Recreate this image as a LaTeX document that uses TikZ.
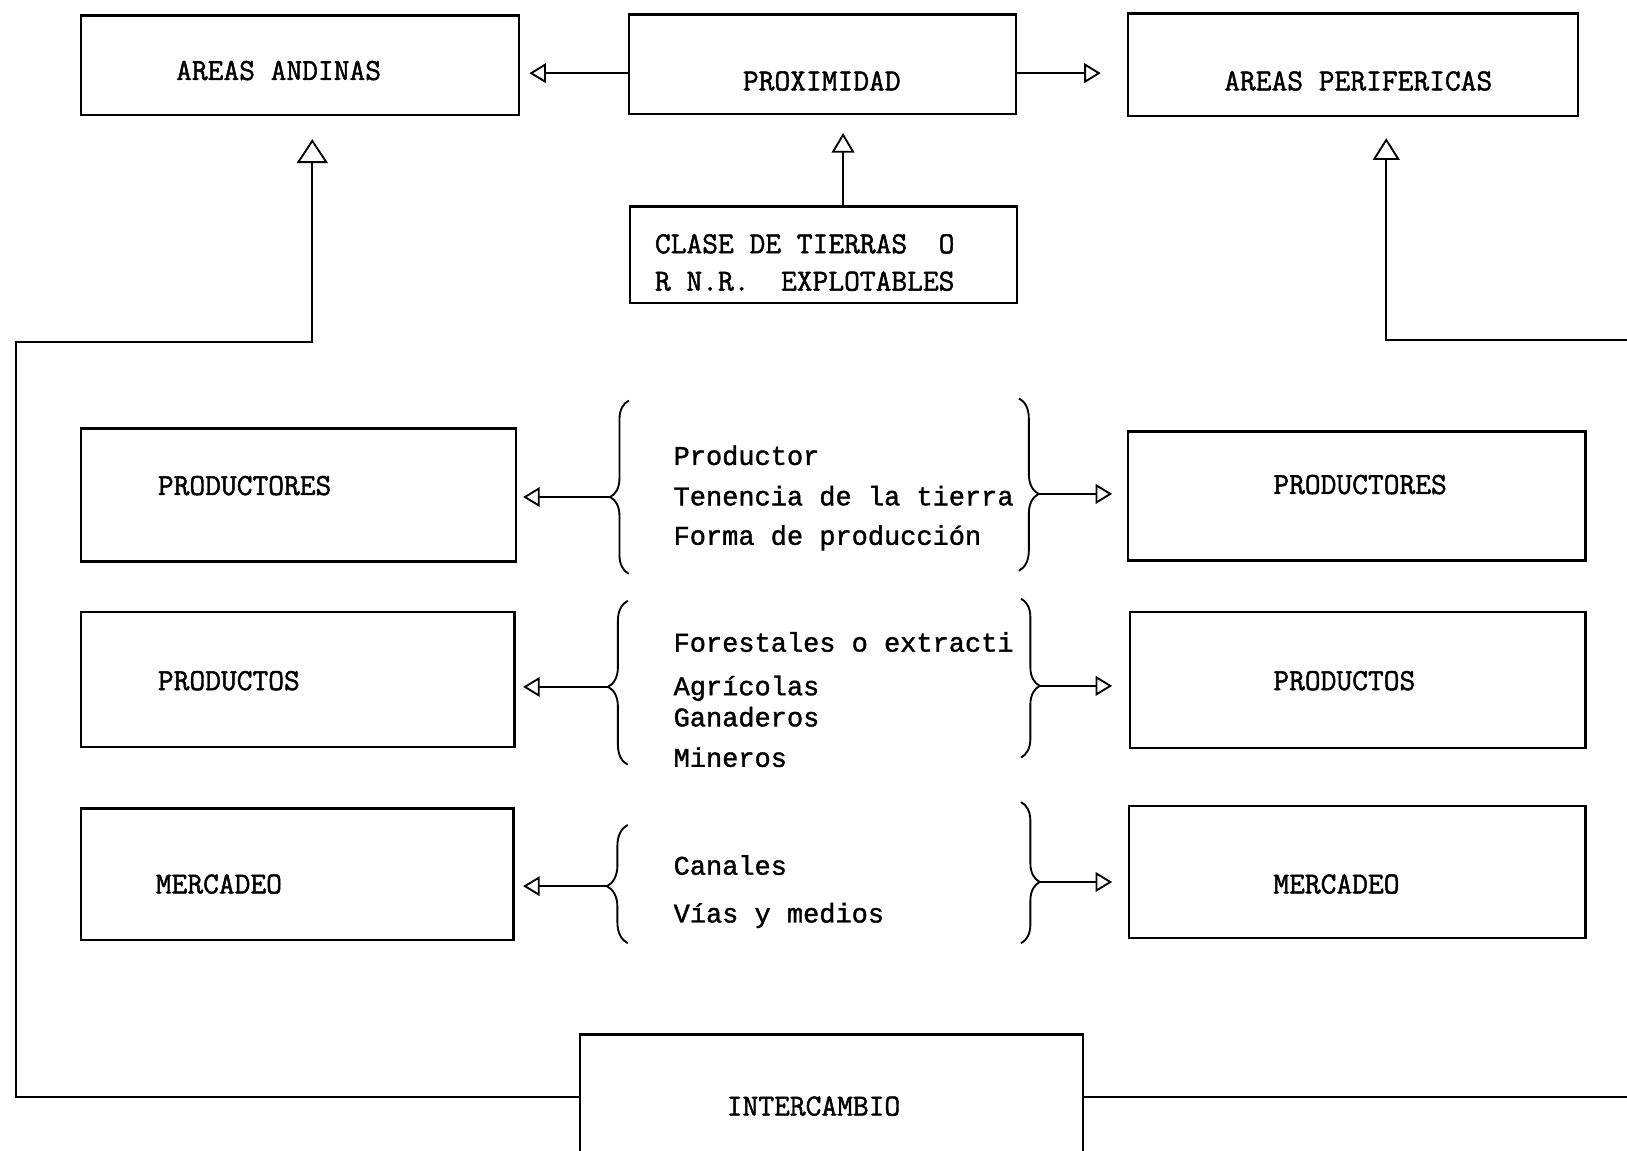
\documentclass[tikz,border=0pt]{standalone}
\usepackage{fontspec}
\newfontfamily\typew{Liberation Mono}[FakeBold=1.3]
\newfontfamily\capf{Latin Modern Mono}[FakeBold=1.5]
\usetikzlibrary{arrows.meta,decorations.pathreplacing}
\tikzset{
  box/.style 2 args={draw, line width=2.3pt, minimum width=#1pt, minimum height=#2pt, inner sep=0pt},
  lbl/.style={font=\capf\fontsize{29.5}{34}\selectfont, inner sep=0pt},
  txt/.style={font=\typew\fontsize{26}{30}\selectfont, inner sep=0pt, anchor=base west},
  conn/.style={line width=1.9pt},
  tipS/.style={-{Triangle[open,length=16pt,width=19pt,line width=1.8pt]}},
  tipU/.style={-{Triangle[open,length=23pt,width=30pt,line width=1.8pt]}},
  tipV/.style={-{Triangle[open,length=21pt,width=26pt,line width=1.8pt]}},
  tipM/.style={-{Triangle[open,length=19pt,width=22pt,line width=1.8pt]}},
  brc/.style 2 args={decorate, decoration={brace, amplitude=#1pt, aspect=#2}, line width=1.8pt}
}
\begin{document}
\begin{tikzpicture}[x=1pt,y=-1pt]
\useasboundingbox (0,0) rectangle (1568,1109);
\fill[white] (0,0) rectangle (1568,1109);
\clip (0,0) rectangle (1568,1109);

% top row
\node[box={422}{96}] (andinas) at (289,63) {};
\node[lbl] (tandinas) at (268.5,68) {AREAS ANDINAS};
\node[box={373}{96}] (prox) at (792.5,62) {};
\node[lbl] (tprox) at (792,78) {PROXIMIDAD};
\node[box={434}{99}] (perif) at (1304,62.5) {};
\node[lbl] (tperif) at (1309,78) {AREAS PERIFERICAS};

\node[box={373}{93}] (clase) at (793.5,245.5) {};
\node[lbl, anchor=west] (tclase1) at (631,235) {CLASE DE TIERRAS~~O};
\node[lbl, anchor=west] (tclase2) at (631,271) {R N.R.~~EXPLOTABLES};

\draw[conn, tipS, shorten >=9pt] ([yshift=-8.5pt]prox.west) -- ([yshift=-8.5pt]prox.west -| andinas.east);
\draw[conn, tipS, shorten >=25pt] ([yshift=-8.5pt]prox.east) -- ([yshift=-8.5pt]prox.east -| perif.west);
\draw[conn, tipM, shorten >=17pt] ([xshift=19pt]clase.north) -- ([xshift=19pt]clase.north |- prox.south);

% left boxes
\node[box={419}{128}] (prodL) at (287.5,477) {};
\node[lbl, anchor=west] (tprodL) at (152,468) {PRODUCTORES};
\node[box={418}{130}] (prodsL) at (287,655) {};
\node[lbl, anchor=west] (tprodsL) at (152,656) {PRODUCTOS};
\node[box={417}{127}] (mercL) at (286.5,842.5) {};
\node[lbl, anchor=west] (tmercL) at (150,852) {MERCADEO};

% right boxes
\node[box={441}{124}] (prodR) at (1307.5,478) {};
\node[lbl, anchor=west] (tprodR) at (1227,467) {PRODUCTORES};
\node[box={439}{131}] (prodsR) at (1308.5,655.5) {};
\node[lbl, anchor=west] (tprodsR) at (1227,656) {PRODUCTOS};
\node[box={440}{127}] (mercR) at (1308,840.5) {};
\node[lbl, anchor=west] (tmercR) at (1227,852) {MERCADEO};

% middle texts
\node[txt] (m11) at (649,448) {Productor};
\node[txt] (m12) at (649,487) {Tenencia de la tierra};
\node[txt] (m13) at (649,525) {Forma de producción};
\node[txt] (m21) at (649,628) {Forestales o extracti};
\node[txt] (m22) at (649,670) {Agrícolas};
\node[txt] (m23) at (649,700) {Ganaderos};
\node[txt] (m24) at (649,739) {Mineros};
\node[txt] (m31) at (649,843) {Canales};
\node[txt] (m32) at (649,889) {Vías y medios};

% braces
\draw[brc={18}{0.443}] (606,553) -- (606,386);
\draw[brc={19}{0.554}] (982,384) -- (982,550);
\draw[brc={19}{0.475}] (605,737) -- (605,579);
\draw[brc={18}{0.549}] (984,577) -- (984,730);
\draw[brc={20}{0.482}] (605,909) -- (605,795);
\draw[brc={18}{0.566}] (984,773) -- (984,909);
\coordinate (b1L) at (588,479);
\coordinate (b1R) at (1001,476);
\coordinate (b2L) at (586,662);
\coordinate (b2R) at (1002,661);
\coordinate (b3L) at (585,854);
\coordinate (b3R) at (1002,850);

\draw[conn, tipS, shorten >=6pt] (b1L) -- (b1L -| prodL.east);
\draw[conn, tipS, shorten >=14pt] (b1R) -- (b1R -| prodR.west);
\draw[conn, tipS, shorten >=7pt] (b2L) -- (b2L -| prodsL.east);
\draw[conn, tipS, shorten >=16pt] (b2R) -- (b2R -| prodsR.west);
\draw[conn, tipS, shorten >=8pt] (b3L) -- (b3L -| mercL.east);
\draw[conn, tipS, shorten >=15pt] (b3R) -- (b3R -| mercR.west);

% bottom
\node[box={485}{120}] (inter) at (801.5,1057) {};
\node[lbl] (tinter) at (784,1066) {INTERCAMBIO};
\coordinate (cL) at (15,330);
\coordinate (eR1) at (1568,1057);
\coordinate (eR2) at (1568,328);
\draw[conn, tipU, shorten >=22pt] (inter.west) -| (cL) -| ([xshift=12pt]andinas.south);
\draw[conn] (inter.east) -- (eR1);
\draw[conn, tipV, shorten >=20pt] (eR2) -| ([xshift=32pt]perif.south);
\end{tikzpicture}
\end{document}
